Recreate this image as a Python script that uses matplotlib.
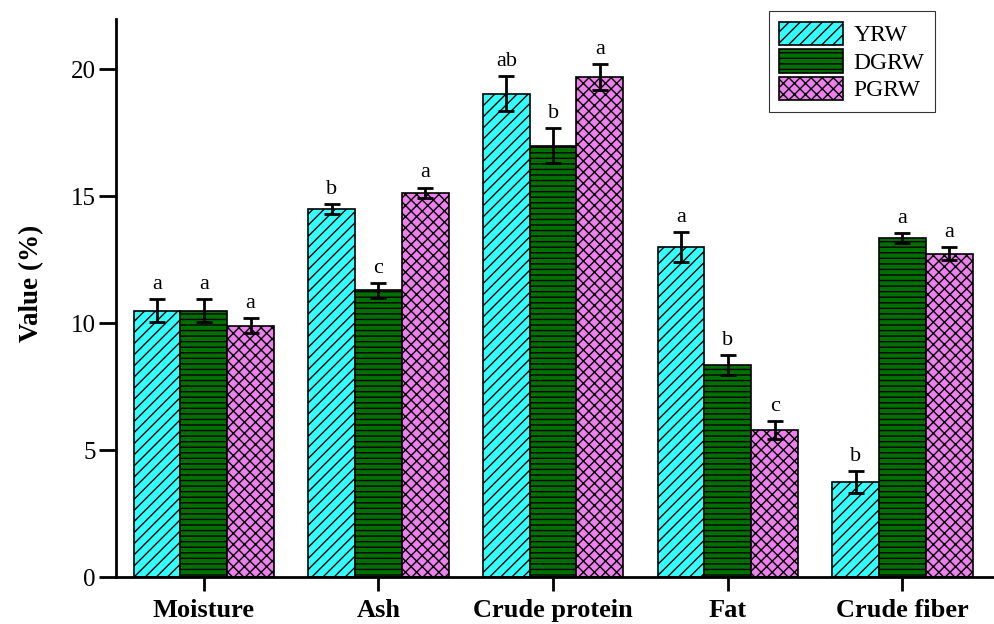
import numpy as np
import matplotlib
matplotlib.use('Agg')
import matplotlib.pyplot as plt

plt.rcParams['font.family'] = ['Liberation Serif', 'DejaVu Serif']
plt.rcParams['hatch.linewidth'] = 1.0
plt.rcParams['hatch.color'] = 'black'

categories = ['Moisture', 'Ash', 'Crude protein', 'Fat', 'Crude fiber']
series = ['YRW', 'DGRW', 'PGRW']
yrw = [10.5, 14.5, 19.05, 13.0, 3.75]
dgrw = [10.5, 11.3, 17.0, 8.35, 13.35]
pgrw = [9.9, 15.15, 19.7, 5.8, 12.75]
yrw_err = [0.45, 0.2, 0.7, 0.6, 0.45]
dgrw_err = [0.45, 0.3, 0.7, 0.4, 0.2]
pgrw_err = [0.3, 0.2, 0.5, 0.35, 0.25]
yrw_sig = ['a', 'b', 'ab', 'a', 'b']
dgrw_sig = ['a', 'c', 'b', 'b', 'a']
pgrw_sig = ['a', 'a', 'a', 'c', 'a']

colors = ['#33FFFF', '#007000', '#EE80EE']
hatches = ['///', '---', 'xxx']

fig, ax = plt.subplots(figsize=(9.95, 6.24), dpi=100)
x = np.arange(len(categories))
w = 0.268

data = [(yrw, yrw_err, yrw_sig), (dgrw, dgrw_err, dgrw_sig), (pgrw, pgrw_err, pgrw_sig)]
for i, (vals, errs, sig) in enumerate(data):
    pos = x + (i - 1) * w
    ax.bar(pos, vals, w, color=colors[i], edgecolor='black', linewidth=1.2,
           hatch=hatches[i], label=series[i], zorder=2)
    ax.errorbar(pos, vals, yerr=errs, fmt='none', ecolor='black', elinewidth=2,
                capsize=6, capthick=2, zorder=3)
    for p, v, e, s in zip(pos, vals, errs, sig):
        ax.text(p, v + e + 0.2, s, ha='center', va='bottom', fontsize=16)

ax.set_xlim(-0.5, 4.53)
ax.set_ylim(0, 22.0)
ax.set_yticks([0, 5, 10, 15, 20])
ax.set_xticks(x)
ax.set_xticklabels(categories, fontsize=19, fontweight='bold')
ax.tick_params(axis='y', labelsize=18, length=12, width=2, direction='out', pad=3)
ax.tick_params(axis='x', length=10, width=2, direction='out', pad=6)
ax.set_ylabel('Value (%)', fontsize=19.5, fontweight='bold')
ax.yaxis.set_label_coords(-0.082, 0.526)
ax.spines['top'].set_visible(False)
ax.spines['right'].set_visible(False)
ax.spines['left'].set_linewidth(2)
ax.spines['bottom'].set_linewidth(2)

leg = ax.legend(loc='upper right', bbox_to_anchor=(0.932, 1.014), borderaxespad=0,
                fontsize=17, handlelength=2.7, handleheight=1.15, labelspacing=0.12,
                fancybox=False, edgecolor='black', borderpad=0.45, handletextpad=0.45)
leg.get_frame().set_linewidth(0.8)

plt.subplots_adjust(left=0.117, right=1.0, bottom=0.075, top=0.97)
plt.savefig('out.png', dpi=100)
plt.close()
